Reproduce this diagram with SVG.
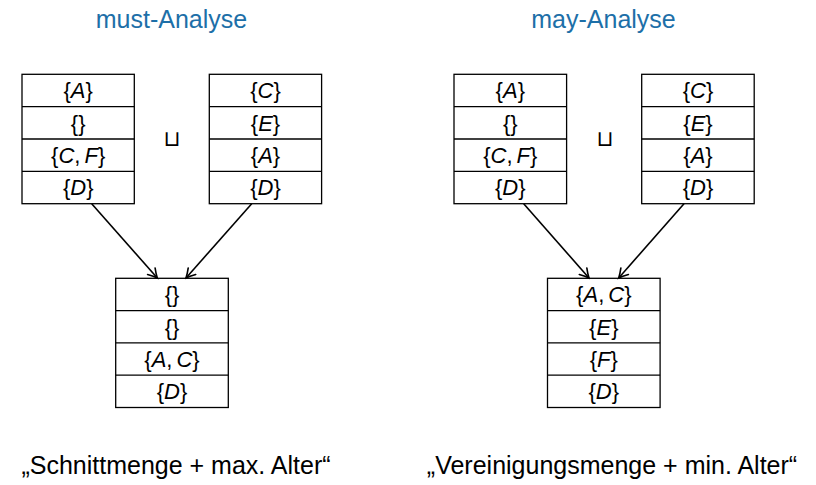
<svg xmlns="http://www.w3.org/2000/svg" width="816" height="485" viewBox="0 0 816 485">
<defs>
<style>
.title{font-family:"Liberation Sans",Arial,sans-serif;font-size:25px;fill:#1d6fa8;text-anchor:middle}
.label{font-family:"Liberation Sans",Arial,sans-serif;font-size:25px;fill:#000;text-anchor:middle}
.cell{font-family:"Liberation Sans",Arial,sans-serif;font-size:22px;fill:#000;text-anchor:middle}
.cell .v{font-style:italic}
.box{fill:#fff;stroke:#000;stroke-width:1.3}
.sep{stroke:#000;stroke-width:1.3}
.op{font-family:"DejaVu Sans",sans-serif;font-size:22px;fill:#000;text-anchor:middle}
.edge{stroke:#000;stroke-width:1.6;fill:none;marker-end:url(#arr)}
</style>
<marker id="arr" viewBox="-10 -6 12 12" refX="0" refY="0" markerWidth="12" markerHeight="12" markerUnits="userSpaceOnUse" orient="auto">
<path d="M -9 -5 Q -3.5 -1.4 0 0 Q -3.5 1.4 -9 5" fill="none" stroke="#000" stroke-width="1.6" stroke-linecap="round"/>
</marker>
</defs>
<rect width="816" height="485" fill="#fff"/>

<text class="title" x="171.5" y="28">must-Analyse</text>
<text class="title" x="603.5" y="28">may-Analyse</text>

<g id="must-in1">
<rect class="box" x="22" y="74.3" width="112.3" height="129.4"/>
<line class="sep" x1="22" y1="106.65" x2="134.3" y2="106.65"/>
<line class="sep" x1="22" y1="139" x2="134.3" y2="139"/>
<line class="sep" x1="22" y1="171.35" x2="134.3" y2="171.35"/>
<text class="cell" x="78.2" y="98.2">{<tspan class="v">A</tspan>}</text>
<text class="cell" x="78.2" y="130.5">{}</text>
<text class="cell" x="78.2" y="162.9">{<tspan class="v">C</tspan>,<tspan class="v" dx="4">F</tspan>}</text>
<text class="cell" x="78.2" y="195.2">{<tspan class="v">D</tspan>}</text>
</g>

<g id="must-op"><text class="op" x="172" y="146">⊔</text></g>

<g id="must-in2">
<rect class="box" x="209.3" y="74.3" width="112.3" height="129.4"/>
<line class="sep" x1="209.3" y1="106.65" x2="321.6" y2="106.65"/>
<line class="sep" x1="209.3" y1="139" x2="321.6" y2="139"/>
<line class="sep" x1="209.3" y1="171.35" x2="321.6" y2="171.35"/>
<text class="cell" x="265.5" y="98.2">{<tspan class="v">C</tspan>}</text>
<text class="cell" x="265.5" y="130.5">{<tspan class="v">E</tspan>}</text>
<text class="cell" x="265.5" y="162.9">{<tspan class="v">A</tspan>}</text>
<text class="cell" x="265.5" y="195.2">{<tspan class="v">D</tspan>}</text>
</g>

<g id="must-out">
<rect class="box" x="115.7" y="278.3" width="112.6" height="129.2"/>
<line class="sep" x1="115.7" y1="310.6" x2="228.3" y2="310.6"/>
<line class="sep" x1="115.7" y1="342.9" x2="228.3" y2="342.9"/>
<line class="sep" x1="115.7" y1="375.2" x2="228.3" y2="375.2"/>
<text class="cell" x="172" y="302.2">{}</text>
<text class="cell" x="172" y="334.5">{}</text>
<text class="cell" x="172" y="366.8">{<tspan class="v">A</tspan>,<tspan class="v" dx="4">C</tspan>}</text>
<text class="cell" x="172" y="399.1">{<tspan class="v">D</tspan>}</text>
</g>

<g id="may-in1">
<rect class="box" x="454" y="74.3" width="112.6" height="129.4"/>
<line class="sep" x1="454" y1="106.65" x2="566.6" y2="106.65"/>
<line class="sep" x1="454" y1="139" x2="566.6" y2="139"/>
<line class="sep" x1="454" y1="171.35" x2="566.6" y2="171.35"/>
<text class="cell" x="510.3" y="98.2">{<tspan class="v">A</tspan>}</text>
<text class="cell" x="510.3" y="130.5">{}</text>
<text class="cell" x="510.3" y="162.9">{<tspan class="v">C</tspan>,<tspan class="v" dx="4">F</tspan>}</text>
<text class="cell" x="510.3" y="195.2">{<tspan class="v">D</tspan>}</text>
</g>

<g id="may-op"><text class="op" x="605" y="146">⊔</text></g>

<g id="may-in2">
<rect class="box" x="641.7" y="74.3" width="112.5" height="129.4"/>
<line class="sep" x1="641.7" y1="106.65" x2="754.2" y2="106.65"/>
<line class="sep" x1="641.7" y1="139" x2="754.2" y2="139"/>
<line class="sep" x1="641.7" y1="171.35" x2="754.2" y2="171.35"/>
<text class="cell" x="698" y="98.2">{<tspan class="v">C</tspan>}</text>
<text class="cell" x="698" y="130.5">{<tspan class="v">E</tspan>}</text>
<text class="cell" x="698" y="162.9">{<tspan class="v">A</tspan>}</text>
<text class="cell" x="698" y="195.2">{<tspan class="v">D</tspan>}</text>
</g>

<g id="may-out">
<rect class="box" x="547.5" y="278.3" width="112.6" height="129.2"/>
<line class="sep" x1="547.5" y1="310.6" x2="660.1" y2="310.6"/>
<line class="sep" x1="547.5" y1="342.9" x2="660.1" y2="342.9"/>
<line class="sep" x1="547.5" y1="375.2" x2="660.1" y2="375.2"/>
<text class="cell" x="603.8" y="302.2">{<tspan class="v">A</tspan>,<tspan class="v" dx="4">C</tspan>}</text>
<text class="cell" x="603.8" y="334.5">{<tspan class="v">E</tspan>}</text>
<text class="cell" x="603.8" y="366.8">{<tspan class="v">F</tspan>}</text>
<text class="cell" x="603.8" y="399.1">{<tspan class="v">D</tspan>}</text>
</g>

<g id="connectors">
<line class="edge" x1="91.7" y1="203.7" x2="157.3" y2="278"/>
<line class="edge" x1="251.7" y1="203.7" x2="186" y2="278"/>
<line class="edge" x1="523.7" y1="203.7" x2="589" y2="278"/>
<line class="edge" x1="684" y1="203.7" x2="618.7" y2="278"/>
</g>

<text class="label" x="176" y="474">„Schnittmenge + max. Alter“</text>
<text class="label" x="612" y="474">„Vereinigungsmenge + min. Alter“</text>
</svg>
